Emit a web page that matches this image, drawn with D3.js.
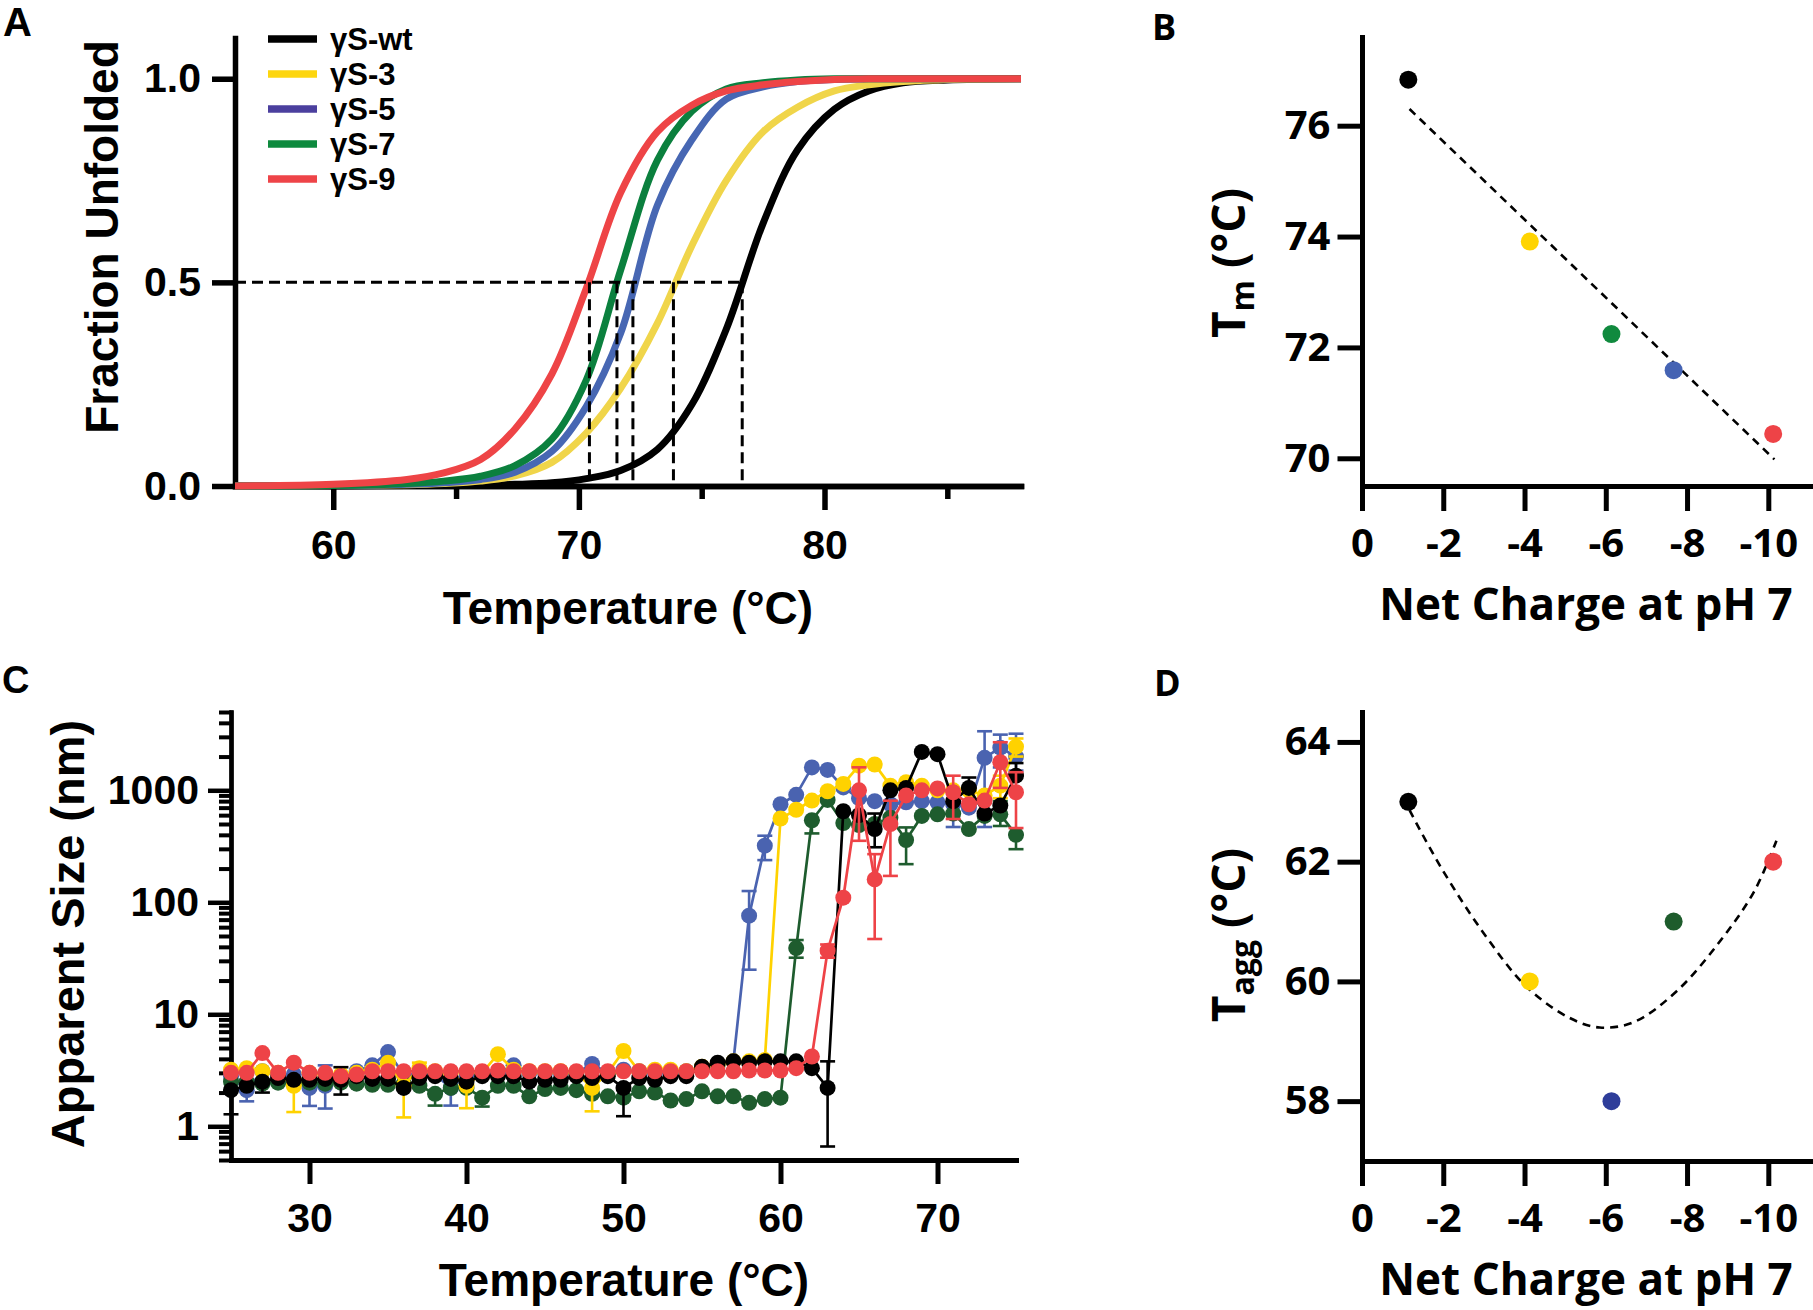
<!DOCTYPE html>
<html>
<head>
<meta charset="utf-8">
<script src="https://cdn.jsdelivr.net/npm/d3@7"></script>
<style>
body { margin: 0; background: #fff; }
svg { display: block; }
</style>
</head>
<body>
<div id="fig"></div>
<script>
// ---- panel A : fitted melt curves (fraction unfolded)
const meltTemps = [56, 60, 63, 64.5, 66, 67.4, 68.9, 70.3, 71.7, 73.2, 74.6, 76, 77.5, 78.9, 80.4, 81.8, 83.2, 85, 88];
const meltWt = [0, 0, 0.001, 0.001, 0.002, 0.004, 0.008, 0.018, 0.038, 0.09, 0.2, 0.385, 0.645, 0.825, 0.925, 0.97, 0.99, 0.997, 1];
const meltS3 = [0, 0.001, 0.003, 0.006, 0.012, 0.025, 0.058, 0.13, 0.24, 0.40, 0.59, 0.75, 0.87, 0.93, 0.97, 0.985, 0.993, 0.998, 1];
const meltS5 = [0, 0.001, 0.004, 0.008, 0.016, 0.034, 0.085, 0.195, 0.375, 0.69, 0.85, 0.95, 0.98, 0.993, 0.998, 1, 1, 1, 1];
const meltS7 = [0, 0.001, 0.006, 0.012, 0.024, 0.05, 0.115, 0.26, 0.53, 0.80, 0.92, 0.975, 0.99, 0.997, 1, 1, 1, 1, 1];
const meltS9 = [0, 0.004, 0.016, 0.032, 0.065, 0.14, 0.275, 0.485, 0.72, 0.87, 0.935, 0.97, 0.985, 0.993, 0.998, 1, 1, 1, 1];
const variantNames = ['γS-wt', 'γS-3', 'γS-5', 'γS-7', 'γS-9'];
const meltTm = [76.65, 73.85, 72.2, 71.55, 70.43];

// ---- panel B : Tm vs net charge
const chargeB = [-1.14, -4.13, -6.14, -7.67, -10.12];
const tmB = [76.83, 73.91, 72.24, 71.59, 70.44];
const fitB = [[-1.17, 76.3], [-10.15, 69.98]];

// ---- panel C : DLS apparent size (nm) vs temperature
const tempsC = [25, 26, 27, 28, 29, 30, 31, 32, 33, 34, 35, 36, 37, 38, 39, 40, 41, 42, 43, 44, 45, 46, 47, 48, 49, 50,
  51, 52, 53, 54, 55, 56, 57, 58, 59, 60, 61, 62, 63, 64, 65, 66, 67, 68, 69, 70, 71, 72, 73, 74, 75];
const sizeWt = [2.1, 2.3, 2.5, 2.7, 2.6, 2.6, 2.65, 2.6, 2.8, 2.65, 2.65, 2.2, 2.7, 2.8, 2.65, 2.5, 2.8, 2.8, 2.8, 2.5,
  2.6, 2.6, 2.8, 2.7, 2.8, 2.2, 2.7, 2.6, 2.8, 2.8, 3.4, 3.7, 3.8, 3.7, 3.8, 3.8, 3.8, 3.3, 2.2,
  650, 600, 450, 1000, 1050, 2200, 2100, 800, 1050, 620, 730, 1350];
const sizeS3 = [3.2, 3.3, 3.1, 3.0, 2.3, 3.0, 2.9, 2.9, 3.0, 3.2, 3.7, 2.3, 3.3, 3.1, 3.0, 2.3, 3.0, 4.4, 3.2, 3.1,
  3.1, 3.1, 3.0, 2.2, 3.0, 4.7, 3.1, 3.2, 3.2, 3.1, 3.4, 3.6, 3.8, 3.8, 3.9,
  560, 670, 810, 980, 1140, 1660, 1700, 1100, 1180, 1100, 1000, 1000, 1000, 900, 1100, 2450];
const sizeS5 = [2.8, 2.1, 3.1, 2.9, 2.9, 2.2, 2.3, 2.6, 3.1, 3.5, 4.6, 2.9, 2.9, 2.9, 2.2, 2.8, 2.9, 3.0, 3.5, 3.0,
  3.0, 3.0, 3.0, 3.6, 3.0, 3.2, 3.1, 3.0, 3.0, 3.1, 3.3, 3.5, 3.8,
  76, 320, 750, 910, 1600, 1520, 1060, 850, 800, 750, 780, 800, 780, 750, 700, 1950, 2400, 2000];
const sizeS7 = [2.5, 2.5, 2.4, 2.45, 2.4, 2.45, 2.4, 2.45, 2.4, 2.35, 2.35, 2.4, 2.3, 1.95, 2.2, 2.2, 1.8, 2.3, 2.3, 1.85,
  2.15, 2.2, 2.1, 1.95, 1.85, 1.8, 2.05, 2.0, 1.7, 1.75, 2.05, 1.85, 1.85, 1.62, 1.75, 1.8,
  39, 540, 820, 510, 490, 500, 570, 360, 590, 610, 620, 450, 590, 610, 400];
const sizeS9 = [3.0, 3.0, 4.5, 3.0, 3.7, 3.0, 3.0, 2.8, 2.9, 3.1, 3.1, 3.1, 3.1, 3.1, 3.1, 3.1, 3.1, 3.15, 3.1, 3.1,
  3.1, 3.1, 3.1, 3.1, 3.1, 3.1, 3.1, 3.1, 3.1, 3.1, 3.1, 3.1, 3.1, 3.15, 3.15, 3.15, 3.3, 4.2,
  37, 110, 1000, 160, 500, 900, 1000, 1040, 960, 750, 810, 1780, 960];
// error bars [temperature, low, high]
const errWt = [[25, 1.28, 2.1], [27, 2.0, 2.5], [32, 1.92, 3.37], [50, 1.23, 2.2], [63, 0.66, 3.8], [66, 310, 620], [72, 1050, 1300], [75, 1350, 1750]];
const errS3 = [[29, 1.34, 2.3], [36, 1.2, 2.3], [37, 3.3, 3.7], [40, 1.45, 2.3], [48, 1.36, 2.2], [74, 850, 1350], [75, 2000, 2900]];
const errS5 = [[26, 1.67, 2.1], [30, 1.52, 2.2], [31, 1.44, 3.5], [39, 1.53, 2.2], [58, 25, 126], [59, 238, 393], [71, 470, 1000], [73, 470, 3365], [74, 1600, 3140], [75, 1500, 3200]];
const errS7 = [[38, 1.53, 1.95], [41, 1.5, 1.8], [61, 32, 46], [62, 412, 540], [68, 219, 466], [74, 480, 800], [75, 298, 400]];
const errS9 = [[63, 32, 42], [65, 354, 1603], [66, 47, 269], [67, 172, 807], [71, 554, 1350], [74, 1050, 2684], [75, 460, 1450]];

// ---- panel D : Tagg vs net charge
const chargeD = [-1.14, -4.13, -6.14, -7.67, -10.12];
const taggD = [63.0, 60.0, 58.0, 61.0, 62.0];
const fitD = [[-1.17, 62.86], [-1.93, 61.92], [-2.99, 60.81], [-4.05, 59.91], [-5.11, 59.39], [-5.85, 59.23],
  [-6.69, 59.32], [-7.75, 59.84], [-8.81, 60.67], [-9.65, 61.5], [-10.2, 62.35]];

// colours (per panel, as printed)
const curveColors = ['#000000', '#f0d54a', '#4767b3', '#0b803e', '#ee4446'];
const legendColors = ['#000000', '#fdd60f', '#4b3f9e', '#0e8a3e', '#ee4448'];
const colorsB = ['#000000', '#ffd400', '#108a3e', '#4563b3', '#ee4347'];
const colorsC = ['#000000', '#ffd200', '#4a63b0', '#1e5c2e', '#ee4347'];
const colorsD = ['#000000', '#ffd400', '#2e3d9a', '#1e5c2c', '#ee4347'];

const W = 1813, H = 1310;
const fontAC = "'Liberation Sans', Arial, sans-serif";
const fontLabel = "'Liberation Sans Narrow', 'Liberation Sans', sans-serif";
const fontBD = "'Open Sans', 'DejaVu Sans', sans-serif";

var svg = d3.select('#fig').append('svg')
    .attr('width', W)
    .attr('height', H)
    .attr('viewBox', `0 0 ${W} ${H}`);
svg.append('rect').attr('width', W).attr('height', H).attr('fill', '#fff');

function styleAxis(g, font, size, sw) {
    g.select('.domain').attr('stroke-width', sw).attr('stroke-linecap', 'square');
    g.selectAll('.tick line').attr('stroke-width', sw);
    g.selectAll('.tick text')
        .attr('font-family', font)
        .attr('font-size', size)
        .attr('font-weight', 700)
        .attr('fill', '#000');
}

function addText(x, y, str, font, size, anchor) {
    return svg.append('text')
        .attr('x', x).attr('y', y)
        .attr('font-family', font)
        .attr('font-size', size)
        .attr('font-weight', 700)
        .attr('text-anchor', anchor || 'start')
        .text(str);
}

// rotated y title, parts = [[text, size, dy], ...]
function yTitle(x, y, parts, font) {
    var t = svg.append('text')
        .attr('transform', `translate(${x},${y}) rotate(-90)`)
        .attr('text-anchor', 'middle')
        .attr('font-family', font)
        .attr('font-weight', 700);
    parts.forEach(function(p) {
        t.append('tspan').attr('font-size', p[1]).attr('dy', p[2]).text(p[0]);
    });
}

// =================== A ===================
var xA = d3.scaleLinear().domain([56, 88]).range([235, 1021]);
var yA = d3.scaleLinear().domain([0, 1.1]).range([486, 38]);

svg.append('g')
    .attr('transform', 'translate(0,486)')
    .call(d3.axisBottom(xA).tickValues([65, 75, 85]).tickSize(13).tickSizeOuter(0).tickFormat(''))
    .call(g => styleAxis(g, fontAC, 40, 5.5));
svg.append('g')
    .attr('transform', 'translate(0,486)')
    .call(d3.axisBottom(xA).tickValues([60, 70, 80]).tickSize(24).tickPadding(20).tickSizeOuter(0))
    .call(g => styleAxis(g, fontAC, 41, 5.5));
svg.append('g')
    .attr('transform', 'translate(235,0)')
    .call(d3.axisLeft(yA).tickValues([0, 0.5, 1]).tickSize(23).tickPadding(11).tickSizeOuter(0).tickFormat(d3.format('.1f')))
    .call(g => styleAxis(g, fontAC, 41, 5.5));

var meltLine = d3.line()
    .curve(d3.curveCatmullRom.alpha(0.5))
    .x(d => xA(d[0]))
    .y(d => yA(d[1]));
[meltWt, meltS3, meltS5, meltS7, meltS9].forEach(function(vals, i) {
    svg.append('path')
        .datum(meltTemps.map((t, j) => [t, vals[j]]))
        .attr('d', meltLine)
        .attr('fill', 'none')
        .attr('stroke', curveColors[i])
        .attr('stroke-width', 7);
});

// Tm guides
var dashA = '11 6';
svg.append('line')
    .attr('x1', xA(56)).attr('x2', xA(d3.max(meltTm)))
    .attr('y1', yA(0.5)).attr('y2', yA(0.5))
    .attr('stroke', '#000').attr('stroke-width', 3).attr('stroke-dasharray', dashA);
meltTm.forEach(function(tm) {
    svg.append('line')
        .attr('x1', xA(tm)).attr('x2', xA(tm))
        .attr('y1', yA(0.5)).attr('y2', yA(0))
        .attr('stroke', '#000').attr('stroke-width', 3).attr('stroke-dasharray', dashA);
});

// legend
variantNames.forEach(function(name, i) {
    var ly = 39 + i * 35;
    svg.append('line')
        .attr('x1', 268).attr('x2', 317)
        .attr('y1', ly).attr('y2', ly)
        .attr('stroke', legendColors[i]).attr('stroke-width', 7.5);
    addText(330, ly, name, fontAC, 31).attr('dy', '0.35em');
});

addText(628, 624, 'Temperature (°C)', fontAC, 46, 'middle');
yTitle(118, 237, [['Fraction Unfolded', 46, 0]], fontAC);
addText(3, 36, 'A', fontLabel, 40);

// =================== B ===================
var xB = d3.scaleLinear().domain([0, -11.1]).range([1362, 1813]);
var yB = d3.scaleLinear().domain([69.5, 77.6]).range([486, 37]);
var chargeTicks = [0, -2, -4, -6, -8, -10];

svg.append('g')
    .attr('transform', 'translate(0,486)')
    .call(d3.axisBottom(xB).tickValues(chargeTicks).tickSize(25).tickPadding(18).tickSizeOuter(0).tickFormat(d => String(d)))
    .call(g => styleAxis(g, fontBD, 40, 5));
svg.append('g')
    .attr('transform', 'translate(1362,0)')
    .call(d3.axisLeft(yB).tickValues([70, 72, 74, 76]).tickSize(24.5).tickPadding(7).tickSizeOuter(0))
    .call(g => styleAxis(g, fontBD, 40, 5));

svg.append('path')
    .datum(fitB)
    .attr('d', d3.line().x(d => xB(d[0])).y(d => yB(d[1])))
    .attr('fill', 'none').attr('stroke', '#000').attr('stroke-width', 2.6).attr('stroke-dasharray', '8 6');
svg.selectAll('circle.ptB')
    .data(chargeB.map((c, i) => ({c: c, v: tmB[i], col: colorsB[i]})))
    .enter().append('circle')
    .attr('class', 'ptB')
    .attr('cx', d => xB(d.c)).attr('cy', d => yB(d.v))
    .attr('r', 9).attr('fill', d => d.col);

addText(1586, 620, 'Net Charge at pH 7', fontBD, 44, 'middle');
yTitle(1245, 263, [['T', 46, 0], ['m', 32, 9], [' (°C)', 46, -9]], fontBD);
addText(1152, 40, 'B', fontBD, 36);

// =================== C ===================
var xC = d3.scaleLinear().domain([25, 75]).range([231, 1016]);
var yC = d3.scaleLog().domain([0.5, 5000]).range([1160, 712]);

var minorC = [];
[0.1, 1, 10, 100, 1000].forEach(function(dec) {
    for (var k = 2; k <= 9; k++) {
        var v = k * dec;
        if (v >= 0.5 && v <= 5000) minorC.push(v);
    }
});

svg.append('g')
    .attr('transform', 'translate(231,0)')
    .call(d3.axisLeft(yC).tickValues(minorC).tickSize(12).tickSizeOuter(0).tickFormat(''))
    .call(g => styleAxis(g, fontAC, 40, 4));
svg.append('g')
    .attr('transform', 'translate(231,0)')
    .call(d3.axisLeft(yC).tickValues([1, 10, 100, 1000]).tickSize(23).tickPadding(9).tickSizeOuter(0).tickFormat(d3.format('d')))
    .call(g => styleAxis(g, fontAC, 41, 4.5));
svg.append('g')
    .attr('transform', 'translate(0,1160)')
    .call(d3.axisBottom(xC).tickValues([30, 40, 50, 60, 70]).tickSize(24).tickPadding(19).tickSizeOuter(0))
    .call(g => styleAxis(g, fontAC, 41, 5));

var sizeLine = d3.line()
    .x(d => xC(d[0]))
    .y(d => yC(d[1]));

// draw order as in the figure: blue, green, yellow, black, red
var seriesC = [
    {vals: sizeS5, err: errS5, col: colorsC[2]},
    {vals: sizeS7, err: errS7, col: colorsC[3]},
    {vals: sizeS3, err: errS3, col: colorsC[1]},
    {vals: sizeWt, err: errWt, col: colorsC[0]},
    {vals: sizeS9, err: errS9, col: colorsC[4]}
];
seriesC.forEach(function(s) {
    var g = svg.append('g');
    g.append('path')
        .datum(tempsC.map((t, j) => [t, s.vals[j]]))
        .attr('d', sizeLine)
        .attr('fill', 'none').attr('stroke', s.col).attr('stroke-width', 2.7);
    s.err.forEach(function(e) {
        var ex = xC(e[0]);
        g.append('line').attr('x1', ex).attr('x2', ex).attr('y1', yC(e[1])).attr('y2', yC(e[2]))
            .attr('stroke', s.col).attr('stroke-width', 2.6);
        [e[1], e[2]].forEach(function(v) {
            g.append('line').attr('x1', ex - 7.5).attr('x2', ex + 7.5).attr('y1', yC(v)).attr('y2', yC(v))
                .attr('stroke', s.col).attr('stroke-width', 2.6);
        });
    });
    g.selectAll('circle')
        .data(tempsC.map((t, j) => [t, s.vals[j]]))
        .enter().append('circle')
        .attr('cx', d => xC(d[0])).attr('cy', d => yC(d[1]))
        .attr('r', 8).attr('fill', s.col);
});

addText(624, 1296, 'Temperature (°C)', fontAC, 46, 'middle');
yTitle(84, 934, [['Apparent Size (nm)', 47, 0]], fontAC);
addText(2, 693, 'C', fontLabel, 38);

// =================== D ===================
var yD = d3.scaleLinear().domain([57, 64.5]).range([1161, 712]);

svg.append('g')
    .attr('transform', 'translate(0,1161)')
    .call(d3.axisBottom(xB).tickValues(chargeTicks).tickSize(25).tickPadding(18).tickSizeOuter(0).tickFormat(d => String(d)))
    .call(g => styleAxis(g, fontBD, 40, 5));
svg.append('g')
    .attr('transform', 'translate(1362,0)')
    .call(d3.axisLeft(yD).tickValues([58, 60, 62, 64]).tickSize(24.5).tickPadding(7).tickSizeOuter(0))
    .call(g => styleAxis(g, fontBD, 40, 5));

svg.append('path')
    .datum(fitD)
    .attr('d', d3.line().curve(d3.curveCatmullRom).x(d => xB(d[0])).y(d => yD(d[1])))
    .attr('fill', 'none').attr('stroke', '#000').attr('stroke-width', 2.6).attr('stroke-dasharray', '8 6');
svg.selectAll('circle.ptD')
    .data(chargeD.map((c, i) => ({c: c, v: taggD[i], col: colorsD[i]})))
    .enter().append('circle')
    .attr('class', 'ptD')
    .attr('cx', d => xB(d.c)).attr('cy', d => yD(d.v))
    .attr('r', 9).attr('fill', d => d.col);

addText(1586, 1295, 'Net Charge at pH 7', fontBD, 44, 'middle');
yTitle(1245, 935, [['T', 46, 0], ['agg', 32, 9], [' (°C)', 46, -9]], fontBD);
addText(1154, 696, 'D', fontBD, 36);
</script>
</body>
</html>
